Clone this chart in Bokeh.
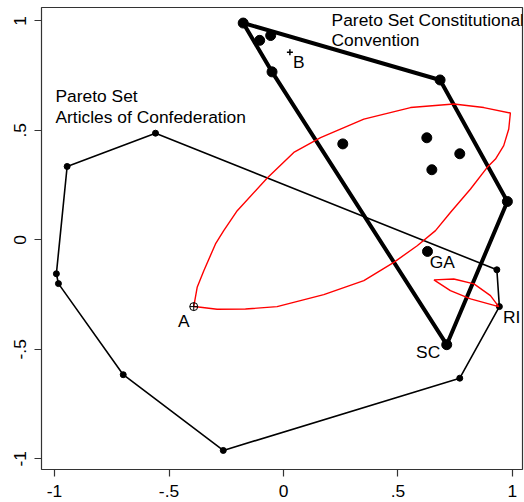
from bokeh.plotting import figure
from bokeh.models import FixedTicker, Range1d
from bokeh.core.properties import value
from bokeh.embed import file_html
from bokeh.resources import INLINE

# Articles of Confederation Pareto set (closed polygon)
aoc_x = [-0.559, -0.945, -0.992, -0.983, -0.700, -0.263, 0.770, 0.943, 0.932]
aoc_y = [0.487, 0.335, -0.155, -0.200, -0.616, -0.962, -0.632, -0.305, -0.137]

# Constitutional Convention Pareto set (closed polygon)
cc_x = [-0.176, 0.684, 0.978, 0.713, -0.050]
cc_y = [0.990, 0.730, 0.175, -0.479, 0.767]

# Other ideal points of the Convention
pts_x = [-0.104, -0.056, 0.259, 0.626, 0.770, 0.648, 0.629]
pts_y = [0.911, 0.933, 0.438, 0.466, 0.393, 0.320, -0.053]

# Large red lens (win set)
lens_x = [-0.392, -0.377, -0.348, -0.297, -0.261, -0.202, -0.071, 0.045, 0.162, 0.351,
          0.555, 0.744, 0.875, 0.991, 0.984, 0.962, 0.926, 0.890, 0.817, 0.729,
          0.664, 0.584, 0.482, 0.351, 0.176, -0.028, -0.166, -0.290, -0.362, -0.392]
lens_y = [-0.305, -0.217, -0.141, -0.019, 0.042, 0.133, 0.282, 0.399, 0.467, 0.551,
          0.604, 0.620, 0.604, 0.579, 0.506, 0.430, 0.369, 0.331, 0.232, 0.125,
          0.042, -0.027, -0.103, -0.186, -0.250, -0.305, -0.316, -0.317, -0.308, -0.305]

# Small red lens near RI
small_x = [0.657, 0.744, 0.832, 0.904, 0.940, 0.817, 0.729, 0.657]
small_y = [-0.183, -0.179, -0.201, -0.255, -0.305, -0.270, -0.232, -0.183]

# Special points
A_pt = (-0.392, -0.305)
B_pt = (0.028, 0.857)

# Point labels
lab_text = ["A", "B", "GA", "RI", "SC"]
lab_x = [-0.435, 0.067, 0.694, 0.997, 0.632]
lab_y = [-0.369, 0.810, -0.103, -0.354, -0.514]

# Annotation texts
ann_text = ["Pareto Set Constitutional", "Convention", "Pareto Set", "Articles of Confederation"]
ann_x = [0.210, 0.210, -0.996, -0.996]
ann_y = [1.005, 0.914, 0.655, 0.563]

ticks = [-1, -0.5, 0, 0.5, 1]
tick_labels = {-1: "-1", -0.5: "-.5", 0: "0", 0.5: ".5", 1: "1"}

FONT = "Liberation Sans"
FS = "17.4px"

p = figure(width=524, height=502, output_backend="svg", toolbar_location=None,
           x_range=Range1d(-1.057, 1.044), y_range=Range1d(-1.049, 1.061),
           min_border_left=41, min_border_right=2, min_border_top=7, min_border_bottom=33)
p.grid.visible = False
p.background_fill_color = "white"
p.border_fill_color = "white"
p.outline_line_color = "#333333"
p.outline_line_width = 1.2

for ax in (p.xaxis[0], p.yaxis[0]):
    ax.ticker = FixedTicker(ticks=ticks)
    ax.major_label_overrides = tick_labels
    ax.axis_line_color = None
    ax.minor_tick_line_color = None
    ax.major_tick_in = 0
    ax.major_tick_out = 7
    ax.major_tick_line_color = "#333333"
    ax.major_tick_line_width = 1.2
    ax.major_label_text_font = FONT
    ax.major_label_text_font_size = FS
    ax.major_label_text_color = "black"
    ax.major_label_standoff = 8
p.yaxis[0].major_label_orientation = "vertical"

# Articles polygon
p.line(aoc_x + aoc_x[:1], aoc_y + aoc_y[:1], line_color="black", line_width=1.6)
p.scatter(aoc_x, aoc_y, size=6, color="black")

# Convention polygon
p.line(cc_x + cc_x[:1], cc_y + cc_y[:1], line_color="black", line_width=4)
p.scatter(cc_x, cc_y, size=10, color="black")
p.scatter(pts_x, pts_y, size=10, color="black")

# red lenses
p.line(lens_x, lens_y, line_color="red", line_width=1.4)
p.line(small_x, small_y, line_color="red", line_width=1.4)

# special markers
p.scatter([A_pt[0]], [A_pt[1]], marker="circle_cross", size=8, fill_color=None,
          line_color="black", line_width=1)
p.scatter([B_pt[0]], [B_pt[1]], marker="cross", size=6, line_color="black", line_width=1.5)

p.text(lab_x, lab_y, text=lab_text, text_font=value(FONT), text_font_size=FS,
       text_align="center", text_baseline="middle", text_color="black")
p.text(ann_x, ann_y, text=ann_text, text_font=value(FONT), text_font_size=FS,
       text_align="left", text_baseline="middle", text_color="black")

open("out.html", "w").write(file_html(p, INLINE))
